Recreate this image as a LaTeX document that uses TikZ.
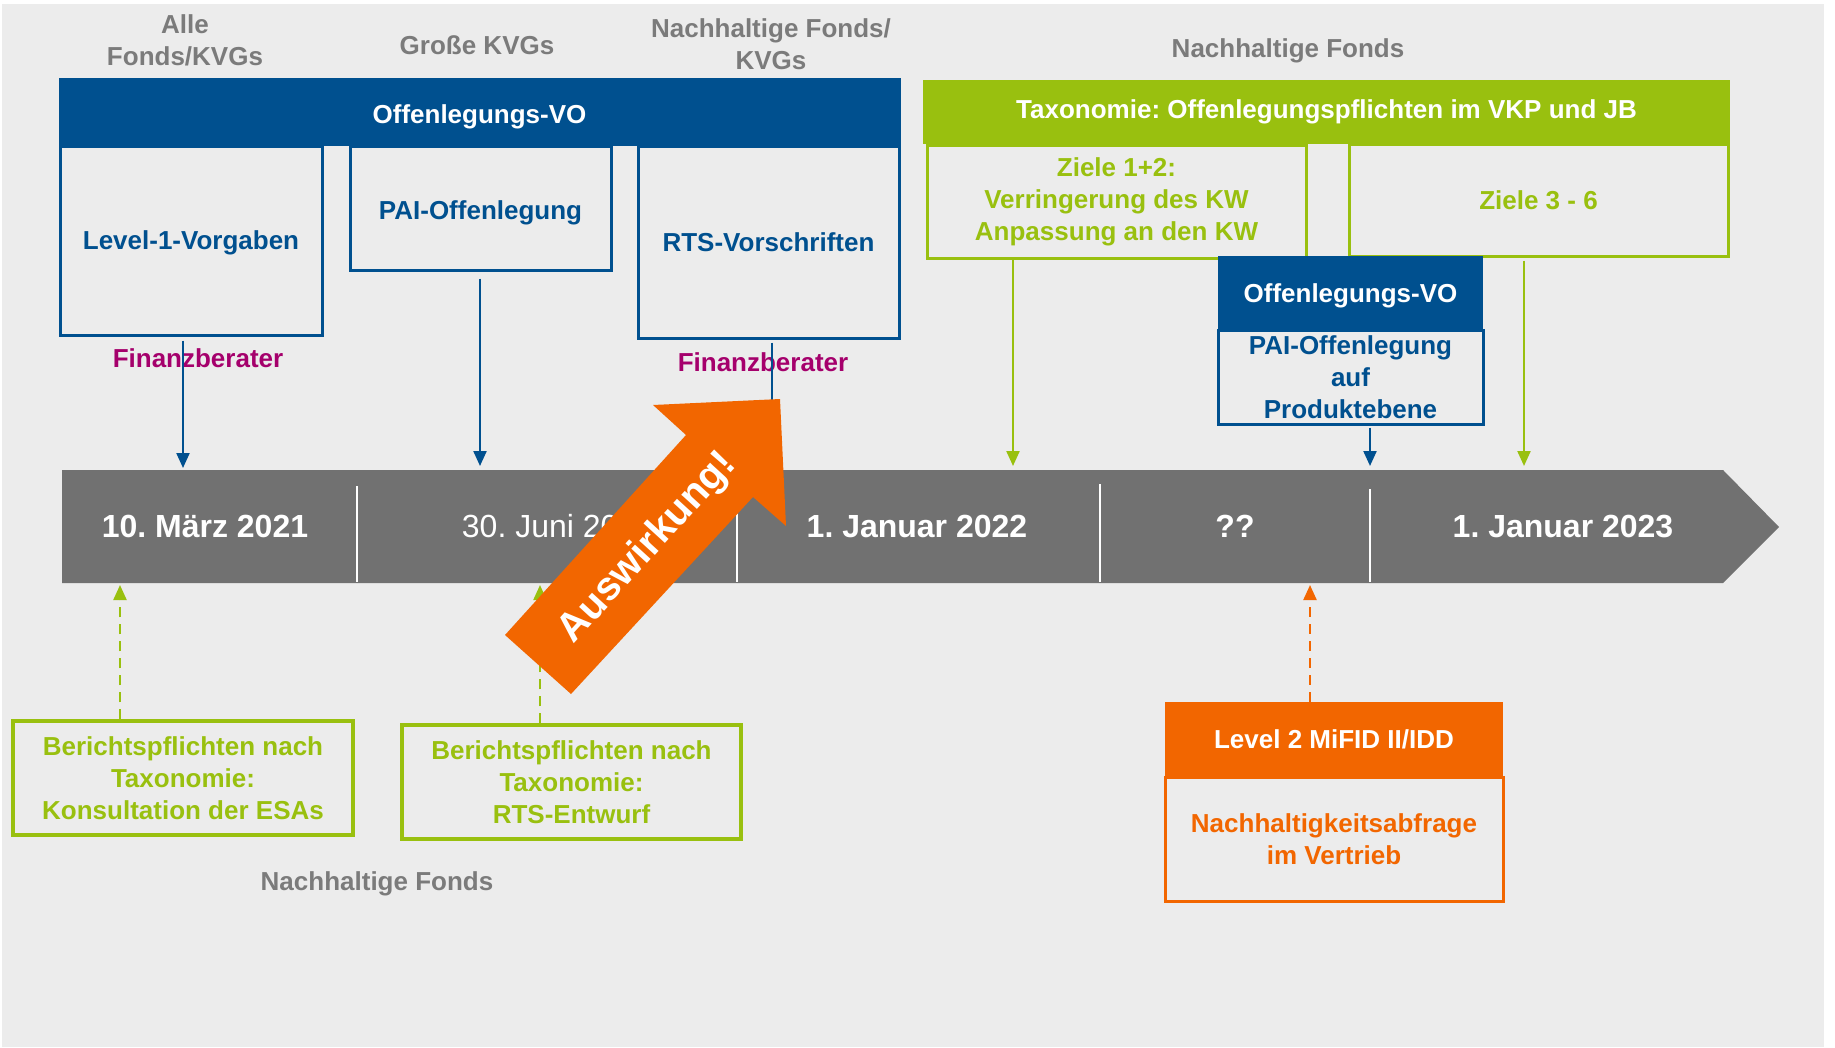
\documentclass[tikz,border=0pt]{standalone}
\usepackage{fontspec}
\setmainfont{Liberation Sans}
\usetikzlibrary{arrows.meta}
\frenchspacing
\definecolor{bgc}{HTML}{ECECEC}
\definecolor{vblue}{HTML}{00508F}
\definecolor{vgreen}{HTML}{99C00F}
\definecolor{vorange}{HTML}{F26600}
\definecolor{tlgray}{HTML}{717171}
\definecolor{lblgray}{HTML}{7B7B7B}
\definecolor{vmag}{HTML}{A5006C}
\newcommand\fmain{\fontsize{26}{32}\selectfont\bfseries\frenchspacing}
\newcommand\fdate{\fontsize{32}{36}\selectfont\bfseries\frenchspacing}
\newcommand\fdatereg{\fontsize{32}{36}\selectfont\frenchspacing}
\newcommand\farrow{\fontsize{40}{46}\selectfont\bfseries}
\newcommand\lowr[2]{\raisebox{-#1}[\height][\depth]{#2}}
\begin{document}
\begin{tikzpicture}[x=1pt,y=-1pt,
  hdr/.style={fill=#1, text=white, inner sep=0pt, align=center, font=\fmain},
  obox/.style={draw=#1, line width=3pt, text=#1, inner sep=0pt, align=center, font=\fmain},
  lbl/.style={text=lblgray, align=center, font=\fmain, inner sep=0pt},
  fb/.style={text=vmag, font=\fmain, inner sep=0pt},
  datelbl/.style={text=white, font=\fdate, inner sep=0pt, anchor=base},
  arr/.style={draw=#1, line width=2.2pt, -{Triangle[width=13pt,length=15pt]}},
  darr/.style={draw=#1, line width=2.2pt, dash pattern=on 10pt off 7pt, -{Triangle[width=13pt,length=15pt]}},
]
\useasboundingbox (0,0) rectangle (1835,1047);
\fill[white] (0,0) rectangle (1835,1047);
\fill[bgc] (2,4) rectangle (1824,1047);

% timeline
\fill[tlgray] (62,470) -- (1723,470) -- (1779,527) -- (1723,583) -- (62,583) -- cycle;
\foreach \x/\s in {357/486,737/486,1100/484,1370/489}
  \draw[white, line width=1.2pt] (\x,\s) -- (\x,582);
\node[datelbl] (d1) at (205,537) {10. März 2021};
\node[datelbl, font=\fdatereg] (d2) at (558,537) {30. Juni 2021};
\node[datelbl] (d3) at (917,537) {1. Januar 2022};
\node[datelbl] (d4) at (1235,537) {??};
\node[datelbl] (d5) at (1563,537) {1. Januar 2023};

% upper left group
\node[obox=vblue, minimum width=262, minimum height=189] (l1) at (191,240.5) {\lowr{2.5pt}{Level-1-Vorgaben}};
\node[obox=vblue, minimum width=261, minimum height=124] (pai) at (480.5,208) {\lowr{4.5pt}{PAI-Offenlegung}};
\node[obox=vblue, minimum width=261, minimum height=192] (rts) at (768.5,242) {RTS-Vorschriften};
\node[hdr=vblue, minimum width=842, minimum height=68] (ovo) at (479.5,112) {\lowr{4.5pt}{Offenlegungs-VO}};

% upper right group
\node[obox=vgreen, minimum width=379, minimum height=113] (z12) at (1116.5,201.5) {Ziele 1+2:\\Verringerung des KW\\Anpassung an den KW};
\node[obox=vgreen, minimum width=379, minimum height=112] (z36) at (1538.5,200) {Ziele 3 - 6};
\node[hdr=vgreen, minimum width=807, minimum height=64] (tax) at (1326.5,112) {Taxonomie: Offenlegungspflichten im VKP und JB};
\node[obox=vblue, minimum width=265, minimum height=94] (pai2) at (1350.5,377) {PAI-Offenlegung\\auf\\Produktebene};
\node[hdr=vblue, minimum width=265, minimum height=74] (ovo2) at (1350.5,293) {\lowr{2.5pt}{Offenlegungs-VO}};

% lower boxes
\node[obox=vgreen, line width=3.5pt, minimum width=340, minimum height=114] (b1) at (183,778) {Berichtspflichten nach\\Taxonomie:\\Konsultation der ESAs};
\node[obox=vgreen, line width=3.5pt, minimum width=339, minimum height=114] (b2) at (571.5,782) {Berichtspflichten nach\\Taxonomie:\\RTS-Entwurf};
\node[obox=vorange, minimum width=338, minimum height=124] (ob) at (1334,839) {Nachhaltigkeitsabfrage\\im Vertrieb};
\node[hdr=vorange, minimum width=338, minimum height=75] (oh) at (1334,739.5) {Level 2 MiFID II/IDD};

% grey labels
\node[lbl] (g1) at (185,40) {Alle\\Fonds/KVGs};
\node[lbl] (g2) at (477,45) {Große KVGs};
\node[lbl] (g3) at (771,44) {Nachhaltige Fonds/\\KVGs};
\node[lbl] (g4) at (1288,50.5) {Nachhaltige Fonds};
\node[lbl] (g5) at (377,883.5) {Nachhaltige Fonds};
\node[fb] (f1) at (198,358) {Finanzberater};
\node[fb] (f2) at (763,362) {Finanzberater};

% connectors
\coordinate (t1) at (183,468);
\coordinate (t2) at (480,466);
\coordinate (t3) at (772,470);
\coordinate (t4) at (1013,466);
\coordinate (t5) at (1524,466);
\coordinate (t6) at (1370,466);
\coordinate (u1) at (120,585);
\coordinate (u2) at (540,585);
\coordinate (u3) at (1310,585);
\draw[arr=vblue, shorten <=4pt] (l1.south -| t1) -- (t1);
\draw[arr=vblue, shorten <=7pt] (pai.south -| t2) -- (t2);
\draw[arr=vblue, shorten <=3pt] (rts.south -| t3) -- (t3);
\draw[arr=vgreen] (z12.south -| t4) -- (t4);
\draw[arr=vgreen, shorten <=3pt] (z36.south -| t5) -- (t5);
\draw[arr=vblue, shorten <=2pt] (pai2.south -| t6) -- (t6);
\draw[darr=vgreen] (b1.north -| u1) -- (u1);
\draw[darr=vgreen] (b2.north -| u2) -- (u2);
\draw[darr=vorange] (oh.north -| u3) -- (u3);

% big orange arrow
\fill[vorange] (505,635) -- (686,435) -- (653,405) -- (780,399) -- (786,526) -- (753,497) -- (571,694) -- cycle;
\node[text=white, font=\farrow, rotate=47.6, inner sep=0pt] (aw) at (648,548) {Auswirkung!};
\end{tikzpicture}
\end{document}
